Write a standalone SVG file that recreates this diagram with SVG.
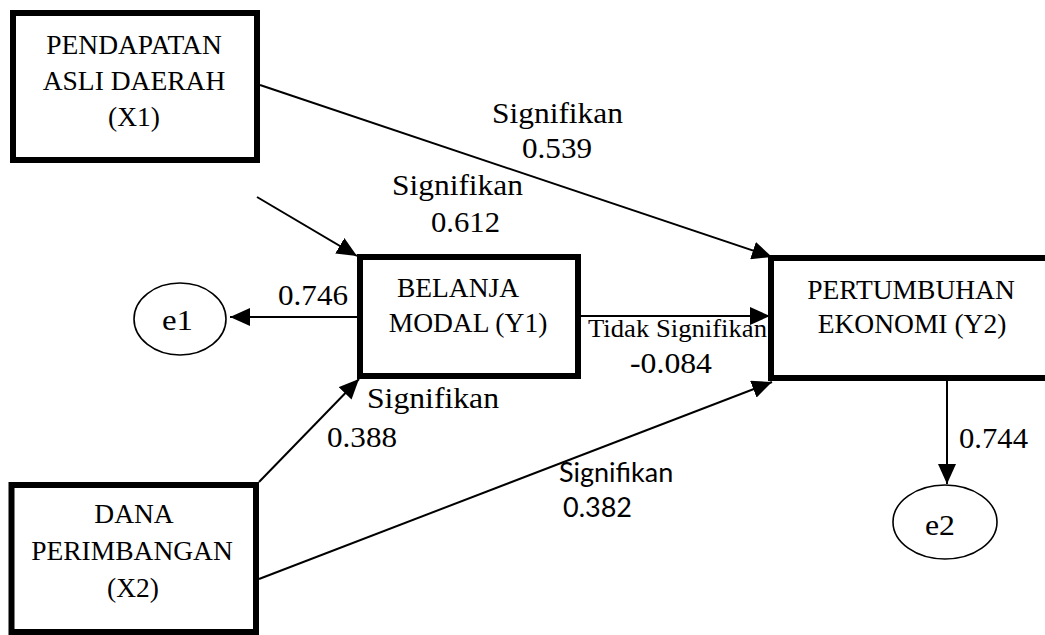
<svg xmlns="http://www.w3.org/2000/svg" width="1045" height="635" viewBox="0 0 1045 635">
<defs>
<style>
.box{fill:#fff;stroke:#000;stroke-width:6}
.ell{fill:#fff;stroke:#000;stroke-width:1.6}
.t{font-family:"Liberation Serif","Times New Roman",serif;font-size:27.5px;fill:#000;text-anchor:middle}
.e{font-family:"Liberation Serif","Times New Roman",serif;font-size:30px;fill:#000}
.l{font-family:"Liberation Serif","Times New Roman",serif;font-size:30px;fill:#000}
.s{font-family:Lato,"Liberation Sans",sans-serif;font-size:27px;fill:#000}
.c{stroke:#000;stroke-width:2;fill:none;marker-end:url(#ah)}
</style>
<marker id="ah" viewBox="0 0 20 18" refX="20" refY="9" markerWidth="20" markerHeight="18" markerUnits="userSpaceOnUse" orient="auto">
<path d="M0,0 L20,9 L0,18 z" fill="#000"/>
</marker>
</defs>
<rect width="1045" height="635" fill="#fff"/>
<g id="connectors">
<line class="c" x1="260" y1="85" x2="772" y2="257"/>
<line class="c" x1="257" y1="197" x2="357" y2="256"/>
<line class="c" x1="357" y1="317" x2="230" y2="317"/>
<line class="c" x1="581" y1="316" x2="770" y2="316"/>
<line class="c" x1="259" y1="482" x2="359" y2="379"/>
<line class="c" x1="259" y1="579" x2="772" y2="382"/>
<line class="c" x1="947" y1="380" x2="947" y2="484"/>
</g>
<g id="X1">
<rect class="box" x="13" y="13" width="244" height="147"/>
<text class="t" x="134" y="54">PENDAPATAN</text>
<text class="t" x="134" y="90">ASLI DAERAH</text>
<text class="t" x="134" y="126">(X1)</text>
</g>
<g id="Y1">
<rect class="box" x="360" y="257" width="218" height="119"/>
<text class="t" x="458" y="297">BELANJA</text>
<text class="t" x="468" y="332">MODAL (Y1)</text>
</g>
<g id="Y2">
<rect class="box" x="771" y="258" width="290" height="120"/>
<text class="t" x="911" y="299">PERTUMBUHAN</text>
<text class="t" x="912" y="333">EKONOMI (Y2)</text>
</g>
<g id="X2">
<rect class="box" x="11.5" y="485" width="244.5" height="147"/>
<text class="t" x="134" y="523">DANA</text>
<text class="t" x="132" y="560">PERIMBANGAN</text>
<text class="t" x="133" y="597">(X2)</text>
</g>
<g id="e1">
<ellipse class="ell" cx="180" cy="319" rx="46" ry="36"/>
<text class="e" x="162" y="330" textLength="31" lengthAdjust="spacingAndGlyphs">e1</text>
</g>
<g id="e2">
<ellipse class="ell" cx="945" cy="522" rx="52" ry="37"/>
<text class="e" x="925" y="535" textLength="30" lengthAdjust="spacingAndGlyphs">e2</text>
</g>
<g id="labels">
<text class="l" x="492" y="123" textLength="131" lengthAdjust="spacingAndGlyphs">Signifikan</text>
<text class="l" x="522" y="158" textLength="70" lengthAdjust="spacingAndGlyphs">0.539</text>
<text class="l" x="392" y="195" textLength="131" lengthAdjust="spacingAndGlyphs">Signifikan</text>
<text class="l" x="431" y="232" textLength="69" lengthAdjust="spacingAndGlyphs">0.612</text>
<text class="l" x="278" y="305" textLength="70" lengthAdjust="spacingAndGlyphs">0.746</text>
<text class="l" x="588" y="337" style="font-size:26px" textLength="179" lengthAdjust="spacingAndGlyphs">Tidak Signifikan</text>
<text class="l" x="630" y="373" textLength="82" lengthAdjust="spacingAndGlyphs">-0.084</text>
<text class="l" x="367" y="408" textLength="132" lengthAdjust="spacingAndGlyphs">Signifikan</text>
<text class="l" x="327" y="447" textLength="70" lengthAdjust="spacingAndGlyphs">0.388</text>
<text class="l" x="959" y="448" textLength="69" lengthAdjust="spacingAndGlyphs">0.744</text>
<text class="s" x="559" y="482">Signifikan</text>
<text class="s" x="563" y="517">0.382</text>
</g>
</svg>
